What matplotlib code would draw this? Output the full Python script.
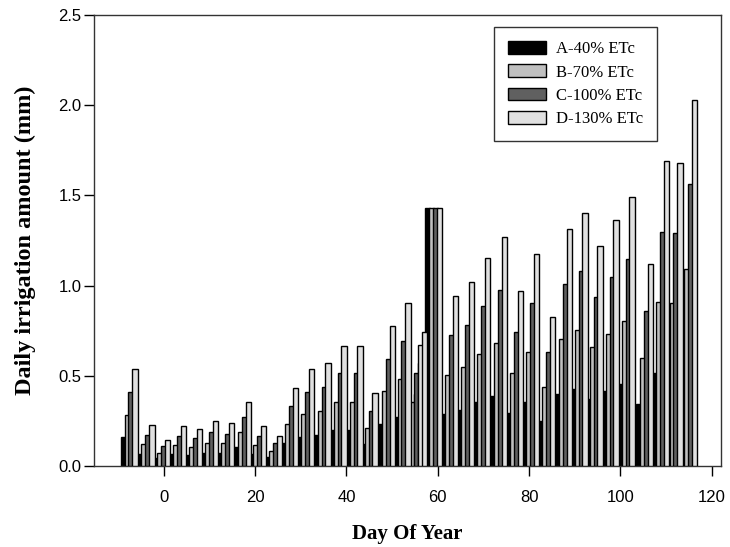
import numpy as np
import matplotlib
matplotlib.use("Agg")
import matplotlib.pyplot as plt

# irrigation events (day of year) and daily amounts (mm) per treatment
days = [-7.6, -3.9, -0.4, 3.0, 6.6, 10.0, 13.6, 17.2, 20.6, 24.0,
        27.6, 31.0, 34.7, 38.2, 41.7, 45.0, 48.8, 52.2, 54.9, 55.9,
        59.1, 62.7, 66.2, 69.7, 73.3, 76.8, 80.4, 83.8, 87.6, 91.0,
        94.3, 97.8, 101.3, 105.3, 108.8, 111.8, 115.0]

a_40 = [0.160, 0.067, 0.043, 0.065, 0.060, 0.072, 0.072, 0.105, 0.065, 0.048,
        0.130, 0.160, 0.172, 0.202, 0.202, 0.120, 0.233, 0.274, 0.200, 0.228,
        1.430, 0.287, 0.311, 0.352, 0.387, 0.294, 0.357, 0.250, 0.400, 0.428,
        0.372, 0.417, 0.454, 0.341, 0.517, 0.513, 0.622]
b_70 = [0.285, 0.120, 0.074, 0.115, 0.107, 0.130, 0.127, 0.190, 0.115, 0.085,
        0.230, 0.287, 0.306, 0.357, 0.357, 0.213, 0.413, 0.483, 0.357, 0.400,
        1.430, 0.504, 0.546, 0.620, 0.681, 0.518, 0.630, 0.440, 0.704, 0.752,
        0.657, 0.731, 0.802, 0.600, 0.909, 0.902, 1.093]
c_100 = [0.410, 0.170, 0.109, 0.168, 0.155, 0.187, 0.180, 0.274, 0.168, 0.128,
         0.333, 0.410, 0.439, 0.513, 0.515, 0.307, 0.593, 0.694, 0.515, 0.570,
         1.430, 0.726, 0.780, 0.889, 0.974, 0.744, 0.902, 0.631, 1.009, 1.080,
         0.937, 1.046, 1.148, 0.859, 1.298, 1.289, 1.565]
d_130 = [0.535, 0.226, 0.144, 0.220, 0.204, 0.248, 0.239, 0.357, 0.222, 0.168,
         0.430, 0.537, 0.572, 0.667, 0.667, 0.404, 0.774, 0.904, 0.670, 0.740,
         1.430, 0.940, 1.018, 1.154, 1.267, 0.969, 1.174, 0.824, 1.313, 1.404,
         1.219, 1.361, 1.493, 1.119, 1.690, 1.678, 2.030]

labels = ["A-40% ETc", "B-70% ETc", "C-100% ETc", "D-130% ETc"]
colors = ["#000000", "#c0c0c0", "#606060", "#e0e0e0"]

fig = plt.figure(figsize=(7.3, 5.47), dpi=100)
ax = fig.add_axes([0.1288, 0.1481, 0.8585, 0.8245])

x = np.array(days)
step = 0.85
width = 1.15
series = [a_40, b_70, c_100, d_130]
for i, vals in enumerate(series):
    ax.bar(x + (i - 1.5) * step, vals, width=width, color=colors[i],
           edgecolor="black", linewidth=1.0, label=labels[i], zorder=2 + i)

ax.set_xlim(-15.3, 122)
ax.set_ylim(0, 2.5)
ax.set_xticks([0, 20, 40, 60, 80, 100, 120])
ax.set_yticks([0.0, 0.5, 1.0, 1.5, 2.0, 2.5])
ax.set_yticklabels(["0.0", "0.5", "1.0", "1.5", "2.0", "2.5"])

for lab in ax.get_xticklabels() + ax.get_yticklabels():
    lab.set_fontfamily("Liberation Sans")
    lab.set_fontsize(12)
ax.tick_params(axis="x", direction="out", length=7, width=1, pad=10)
ax.tick_params(axis="y", direction="out", length=7, width=1, pad=2)
for sp in ax.spines.values():
    sp.set_linewidth(1.0)
    sp.set_color("#333333")

xl = ax.set_xlabel("Day Of Year", family="Liberation Serif", fontsize=15, fontweight="bold")
yl = ax.set_ylabel("Daily irrigation amount (mm)", family="Liberation Serif", fontsize=17.5,
                   fontweight="bold")
xl.set_verticalalignment("center")
yl.set_verticalalignment("center")
ax.xaxis.set_label_coords(0.5, -0.151)
ax.yaxis.set_label_coords(-0.110, 0.5)

leg = ax.legend(loc="upper left", bbox_to_anchor=(0.638, 0.973), borderaxespad=0,
                prop={"family": "Liberation Serif", "size": 12},
                handlelength=2.3, handleheight=0.8, handletextpad=0.55,
                labelspacing=0.42, borderpad=0.85, fancybox=False, framealpha=1)
leg.get_frame().set_edgecolor("#333333")
leg.get_frame().set_linewidth(1.0)
leg.set_zorder(10)

fig.savefig("out.png", dpi=100)
